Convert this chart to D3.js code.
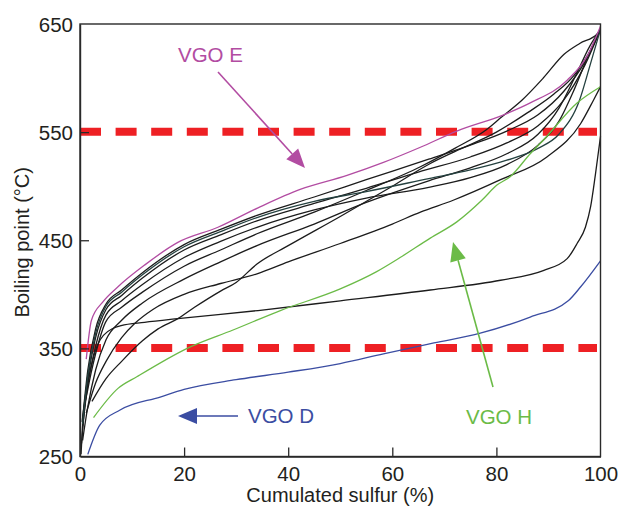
<!DOCTYPE html>
<html>
<head>
<meta charset="utf-8">
<script src="https://cdn.jsdelivr.net/npm/d3@7"></script>
<style>
  html, body { margin: 0; padding: 0; background: #fff; }
  svg { display: block; font-family: "Liberation Sans", Arial, Helvetica, sans-serif; }
</style>
</head>
<body>
<svg id="chart" width="622" height="507"></svg>
<script>
// Cumulated sulfur (%) vs boiling point (°C) for the VGO feeds
const xTicks = [0, 20, 40, 60, 80, 100];
const yTicks = [250, 350, 450, 550, 650];
const cutPoints = [550, 350];

const vgoE = [[1.2,340],[2.2,376],[4.4,393],[7.3,407],[12.4,427],[18.8,448],[26.5,462],[34.2,480],[42.3,497],[51.3,510],[58.3,522],[65.4,536],[72.4,551],[81.4,566],[86.5,577],[93.6,598],[97.4,620],[100,648]];
const vgoH = [[2.6,286],[7.3,313],[11,324],[21,351],[29.4,367],[38.5,385],[50,405],[57,421],[61.5,434],[67.3,452],[72.4,467],[77.2,487],[80.1,501],[82.7,509],[86.5,530],[89.1,543],[95.5,577],[100,592]];
const vgoD = [[1.5,252],[3.8,279],[7.7,293],[15.4,305],[20,312],[30,321],[40,328],[50,336],[58.3,345],[68,355],[76.9,364],[86.5,379],[93.8,394],[96.2,407],[100,431]];

// other feeds (black)
const feedA = [[0.5,285],[1.5,330],[3,368],[5,391],[8,404],[12,420],[20,446],[27,460],[34,473],[45,490],[55,506],[67,525],[75,538],[82,551],[88,566],[93,588],[97,615],[100,645]];
const feedB = [[0.4,282],[1.5,322],[3,360],[5,386],[8,399],[12,415],[20,441],[27,455],[34,468],[45,484],[55,498],[65,513],[75,527],[82,540],[88,556],[93,580],[97,612],[100,645]];
const feedC = [[0.2,252],[0.6,285],[1.5,312],[3,345],[5,375],[8,388],[12,402],[20,426],[27,441],[34,456],[45,476],[55,496],[65.4,518],[72,535],[78,552],[81,564],[85,580],[89,600],[93,622],[96,632],[99.4,641],[100,645]];
const feedD = [[0.5,278],[1.5,316],[3,352],[5,381],[8,394],[12,409],[20,434],[27,449],[34,462],[45,478],[55,489],[67,499],[75,508],[82,520],[88,538],[92,560],[95,590],[98,625],[100,645]];
const feedE = [[0.5,265],[1.5,296],[3,330],[5,358],[8,376],[12,392],[20,414],[27,430],[34,445],[45,465],[55,485],[67,505],[75,517],[82,530],[88,548],[92,572],[95,600],[98,630],[100,645]];
const feedF = [[2.3,301],[5,322],[8,338],[12,357],[15,368],[18.8,377.5],[22,388],[27,403],[30,411],[34,428],[40,445],[50,472],[60,500],[67.3,521],[72,532],[80,550],[86,568],[91,585],[95,603],[98,625],[100,645]];
const feedG = [[1.2,290],[3,318],[5,338],[8,360],[10.5,373],[14,386],[20,400],[27,410],[34,419],[40,430],[50,447],[60,465],[65.4,476],[71.7,487],[80.8,506],[89.7,527],[96.2,558],[98.7,580],[100,592]];
const feedK = [[0.3,262],[1,300],[2.5,340],[4.5,362],[7.9,371],[12.4,374],[18.8,377.5],[34.2,385],[50,394],[67.3,404],[80.8,413],[89,422],[93.6,433],[95.5,447],[97.1,462],[98.1,481],[99,510],[100,546]];
// dark teal feed
const feedT = [[0.5,280],[1.5,325],[3,364],[5,389],[8,402],[12,418],[20,444],[27,458],[34,471],[45,486],[55,495],[67,507],[75,515],[82,524],[88,535],[92,548],[96,580],[98,612],[100,645]];

const blackFeeds = [feedA, feedB, feedC, feedD, feedE, feedF, feedG, feedK];

const svg = d3.select("#chart");
const mLeft = 80, mRight = 600.5, mTop = 24, mBottom = 456.5;

const x = d3.scaleLinear().domain([0, 100]).range([mLeft, mRight]);
const y = d3.scaleLinear().domain([250, 650]).range([mBottom, mTop]);

const line = d3.line()
  .x(d => x(d[0]))
  .y(d => y(d[1]))
  .curve(d3.curveMonotoneX);

const plot = svg.append("g");

// dashed cut points
plot.selectAll("line.cut").data(cutPoints).join("line")
  .attr("class", "cut")
  .attr("x1", mLeft).attr("x2", 597)
  .attr("y1", d => y(d) - 0.5).attr("y2", d => y(d) - 0.5)
  .attr("stroke", "#ee2024")
  .attr("stroke-width", 8)
  .attr("stroke-dasharray", "21 14.6");

// black feed curves
plot.selectAll("path.feed").data(blackFeeds).join("path")
  .attr("class", "feed")
  .attr("d", line)
  .attr("fill", "none")
  .attr("stroke", "#1c1c1c")
  .attr("stroke-width", 1.3);

plot.append("path").attr("d", line(feedT))
  .attr("fill", "none").attr("stroke", "#24403f").attr("stroke-width", 1.3);

const series = [
  { data: vgoE, color: "#b24ca2" },
  { data: vgoH, color: "#6bbb47" },
  { data: vgoD, color: "#3b4da2" }
];
series.forEach(s => {
  plot.append("path").attr("d", line(s.data))
    .attr("fill", "none").attr("stroke", s.color).attr("stroke-width", 1.3);
});

// frame
svg.append("rect")
  .attr("x", mLeft).attr("y", mTop)
  .attr("width", mRight - mLeft).attr("height", mBottom - mTop)
  .attr("fill", "none").attr("stroke", "#2a2a2a").attr("stroke-width", 1.4);

// axes with inward ticks
const xAxis = d3.axisBottom(x).tickValues(xTicks).tickSizeInner(-9).tickSizeOuter(0).tickPadding(15);
const yAxis = d3.axisLeft(y).tickValues(yTicks).tickSizeInner(-9).tickSizeOuter(0).tickPadding(16);

const gx = svg.append("g").attr("transform", `translate(0,${mBottom})`).call(xAxis);
const gy = svg.append("g").attr("transform", `translate(${mLeft},0)`).call(yAxis);
[gx, gy].forEach(g => {
  g.select(".domain").attr("stroke", "#2a2a2a").attr("stroke-width", 1.4);
  g.selectAll(".tick line").attr("stroke", "#2a2a2a").attr("stroke-width", 1.3);
  g.selectAll(".tick text")
    .attr("fill", "#231f20")
    .style("font-family", "'Liberation Sans', Arial, sans-serif")
    .style("font-size", "20.5px");
});
gx.selectAll(".tick line").filter(d => d === 0 || d === 100).remove();
gy.selectAll(".tick line").filter(d => d === 250 || d === 650).remove();
gx.selectAll(".tick text").attr("dy", "0.71em").attr("y", 10);
gy.selectAll(".tick text").attr("x", -7).attr("dy", "0.36em");

// axis titles
svg.append("text")
  .attr("x", (mLeft + mRight) / 2).attr("y", 502)
  .attr("text-anchor", "middle")
  .attr("fill", "#231f20")
  .style("font-size", "20px")
  .text("Cumulated sulfur (%)");

svg.append("text")
  .attr("transform", `translate(29,${(mTop + mBottom) / 2 + 2}) rotate(-90)`)
  .attr("text-anchor", "middle")
  .attr("fill", "#231f20")
  .style("font-size", "20px")
  .text("Boiling point (°C)");

// annotations with arrows
function arrow(x1, y1, x2, y2, color, headLen, headHalf) {
  const dx = x2 - x1, dy = y2 - y1;
  const len = Math.hypot(dx, dy);
  const ux = dx / len, uy = dy / len;
  const bx = x2 - ux * headLen, by = y2 - uy * headLen;
  svg.append("line")
    .attr("x1", x1).attr("y1", y1).attr("x2", bx).attr("y2", by)
    .attr("stroke", color).attr("stroke-width", 1.6);
  svg.append("path")
    .attr("d", `M${x2},${y2}L${bx - uy * headHalf},${by + ux * headHalf}L${bx + uy * headHalf},${by - ux * headHalf}Z`)
    .attr("fill", color);
}

const labels = [
  { text: "VGO E", x: 178, y: 62, color: "#b24ca2", from: [218, 72], to: [305, 168] },
  { text: "VGO D", x: 248, y: 423, color: "#3b4da2", from: [238, 416], to: [178, 416] },
  { text: "VGO H", x: 466, y: 424, color: "#6bbb47", from: [493, 387], to: [453, 242] }
];
labels.forEach(l => {
  svg.append("text")
    .attr("x", l.x).attr("y", l.y)
    .attr("fill", l.color)
    .style("font-size", "20.5px")
    .text(l.text);
  arrow(l.from[0], l.from[1], l.to[0], l.to[1], l.color, 19, 8);
});
</script>
</body>
</html>
